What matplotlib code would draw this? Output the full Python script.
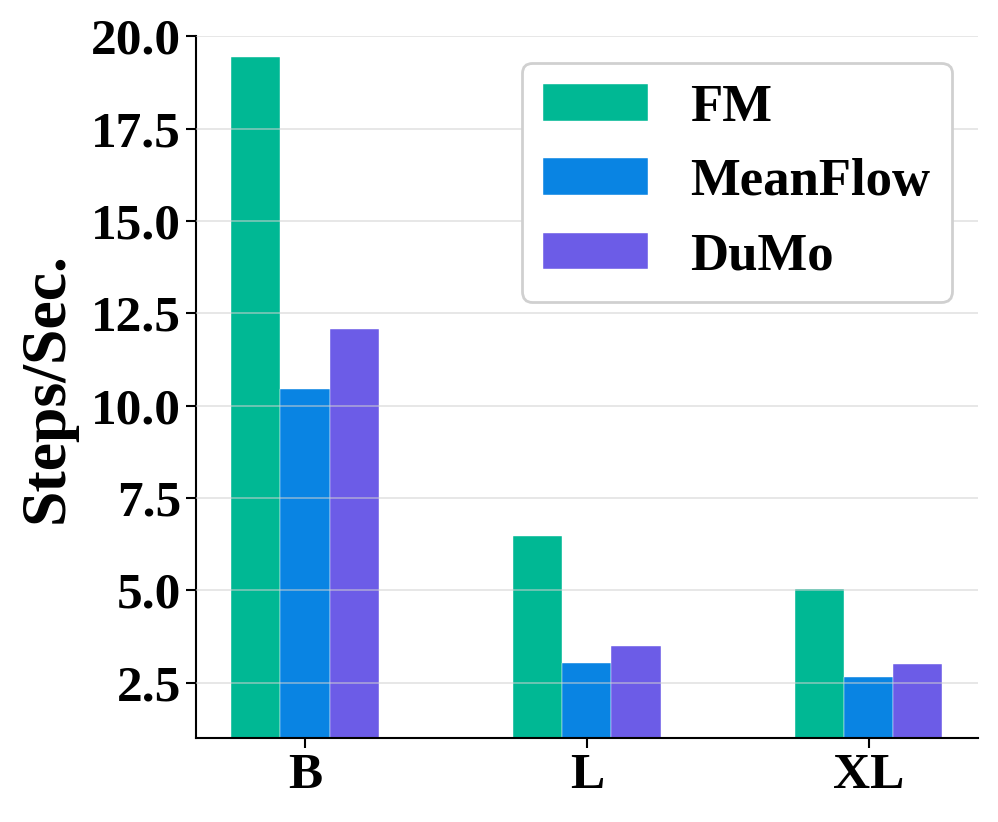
import matplotlib
matplotlib.use("Agg")
import matplotlib.pyplot as plt
import numpy as np

categories = ["B", "L", "XL"]
series_names = ["FM", "MeanFlow", "DuMo"]
fm = [19.43, 6.48, 5.04]
meanflow = [10.45, 3.04, 2.66]
dumo = [12.07, 3.50, 3.01]
colors = ["#00b894", "#0984e3", "#6c5ce7"]
yticks = [2.5, 5.0, 7.5, 10.0, 12.5, 15.0, 17.5, 20.0]

plt.rcParams['font.family'] = ['Liberation Serif', 'DejaVu Serif']
plt.rcParams['font.weight'] = 'bold'

fig = plt.figure(figsize=(9.98, 8.22), dpi=100)
ax = fig.add_axes([0.196, 0.102, 0.784, 0.854])

x = np.arange(len(categories))
w = 0.175
for i, (vals, name, c) in enumerate(zip([fm, meanflow, dumo], series_names, colors)):
    ax.bar(x + (i - 1) * w, vals, w, color=c, label=name, edgecolor='white', linewidth=0.3)

ax.set_ylim(1.0, 20.0)
ax.set_yticks(yticks)
ax.set_yticklabels([f"{t:.1f}" for t in yticks])
ax.set_xticks(x)
ax.set_xticklabels(categories)
ax.tick_params(axis='both', labelsize=37, width=1.5, length=7)
for lab in ax.get_xticklabels() + ax.get_yticklabels():
    lab.set_fontweight('bold')
ax.set_ylabel("Steps/Sec.", fontsize=46, fontweight='bold', labelpad=10)
ax.spines['top'].set_visible(False)
ax.spines['right'].set_visible(False)
ax.spines['left'].set_linewidth(1.5)
ax.spines['bottom'].set_linewidth(1.5)
ax.yaxis.grid(True, color='#d0d0d0', alpha=0.6, linewidth=1.2)
ax.set_axisbelow(False)

leg = ax.legend(loc='upper right', prop={'size': 38, 'weight': 'bold'}, fancybox=True,
                framealpha=1, edgecolor='#d0d0d0', handlelength=2.0)
leg.get_frame().set_linewidth(2)

fig.savefig("out.png", dpi=100)
